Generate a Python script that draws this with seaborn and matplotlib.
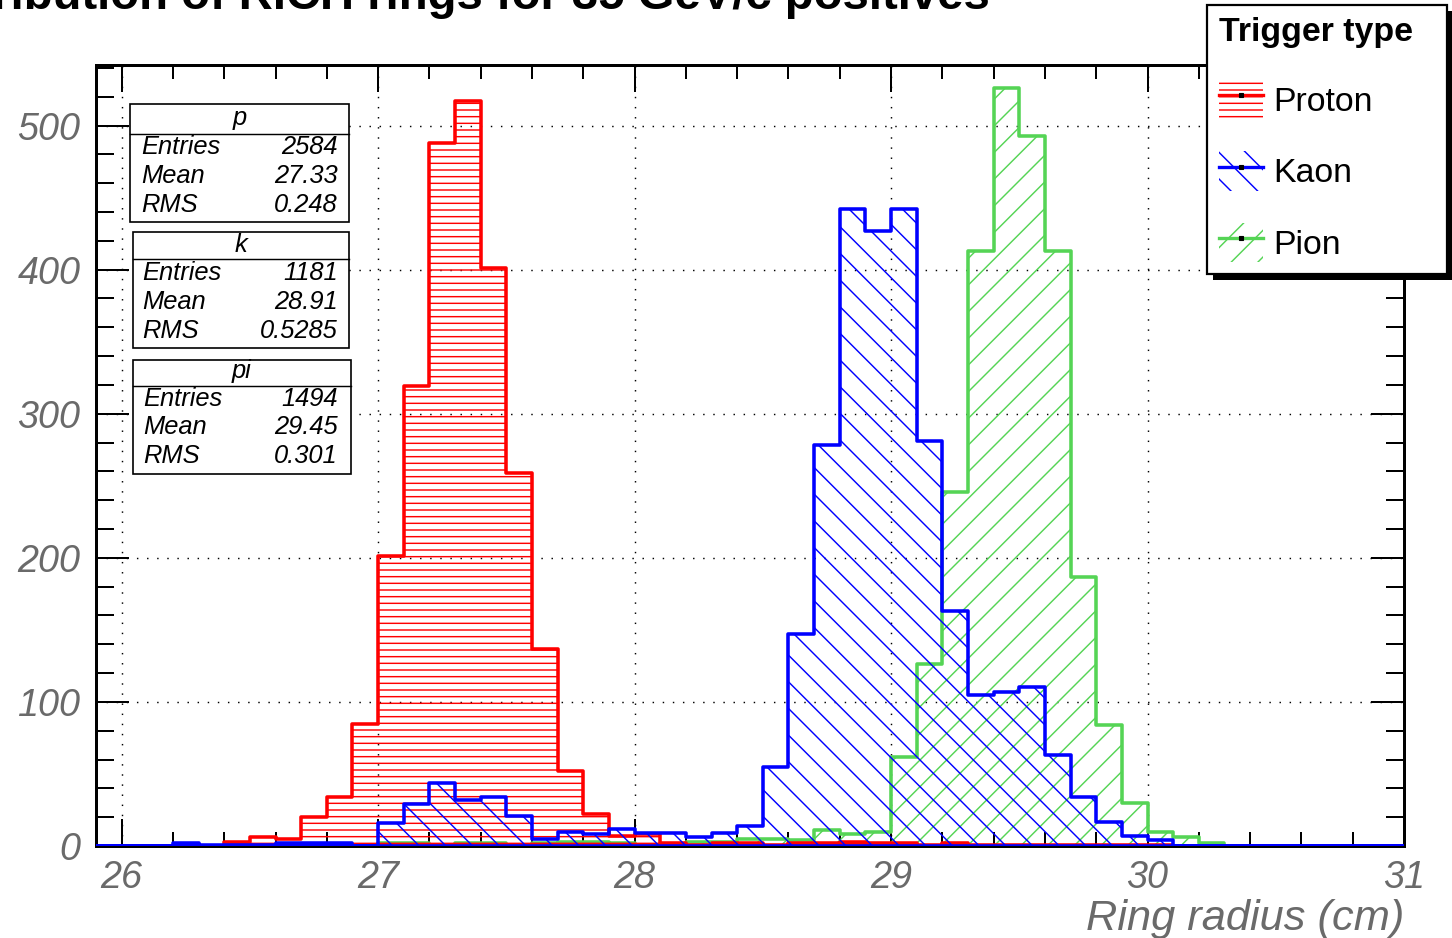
import numpy as np
import pandas as pd
import matplotlib
matplotlib.use("Agg")
import matplotlib.pyplot as plt
import seaborn as sns
from matplotlib.patches import Rectangle, Patch
from matplotlib.lines import Line2D
from matplotlib.legend_handler import HandlerTuple
from matplotlib.ticker import MultipleLocator

# ---------------------------------------------------------------- data
# 0.1 cm bins covering 25.9 .. 31.0 cm
bin_edges = [round(v, 2) for v in np.linspace(25.9, 31.0, 52)]

proton_counts = [0, 0, 0, 0, 0, 3, 6, 5, 20, 34,
                 85, 201, 319, 488, 517, 401, 259, 137, 52, 22,
                 7, 8, 2, 1, 2, 2, 1, 2, 2, 3,
                 2, 2, 1, 2, 1, 1, 1, 1, 1, 1,
                 1, 1, 0, 0, 0, 0, 0, 0, 0, 0, 0]
kaon_counts = [0, 0, 0, 2, 1, 1, 1, 2, 2, 2,
               0, 16, 29, 44, 32, 34, 21, 5, 10, 8,
               12, 9, 9, 6, 9, 14, 55, 147, 278, 442,
               427, 442, 281, 163, 105, 107, 110, 63, 34, 17,
               7, 4, 0, 0, 0, 0, 0, 0, 0, 0, 0]
pion_counts = [0, 0, 0, 0, 0, 0, 0, 1, 1, 0,
               0, 2, 2, 1, 2, 2, 1, 2, 3, 3,
               2, 0, 1, 3, 3, 5, 5, 4, 11, 8,
               10, 62, 126, 246, 413, 526, 493, 413, 187, 84,
               30, 10, 6, 2, 0, 0, 0, 0, 0, 0, 0]

species = ["Proton", "Kaon", "Pion"]
colors = {"Proton": "#ff0000", "Kaon": "#0000ff", "Pion": "#55d455"}
hatches = {"Proton": "--", "Kaon": "\\", "Pion": "/"}

stat_names = ["p", "k", "pi"]
stat_entries = ["2584", "1181", "1494"]
stat_means = ["27.33", "28.91", "29.45"]
stat_rms = ["0.248", "0.5285", "0.301"]

title_text = "Distribution of RICH rings for 35 GeV/c positives"
x_label = "Ring radius (cm)"
legend_title = "Trigger type"

centers = [(a + b) / 2 for a, b in zip(bin_edges[:-1], bin_edges[1:])]
df = pd.concat([
    pd.DataFrame({"radius": centers, "count": proton_counts, "species": "Proton"}),
    pd.DataFrame({"radius": centers, "count": kaon_counts, "species": "Kaon"}),
    pd.DataFrame({"radius": centers, "count": pion_counts, "species": "Pion"}),
], ignore_index=True)

# ---------------------------------------------------------------- style
W, H, DPI = 1452, 938, 80
plt.rcParams["font.family"] = ["Liberation Sans", "DejaVu Sans"]
plt.rcParams["hatch.linewidth"] = 1.3
label_gray = "#6a6a6a"

fig = plt.figure(figsize=(W / DPI, H / DPI), dpi=DPI, facecolor="white")
ax = fig.add_axes([96 / W, 1 - 846 / H, (1404 - 96) / W, (846 - 65) / H])


def fpos(x, y):
    """pixel position (from top-left) -> figure fraction"""
    return x / W, 1 - y / H


# histograms: pion underneath, kaon on top
for name, z in [("Pion", 2), ("Proton", 3), ("Kaon", 4)]:
    sns.histplot(data=df[df["species"] == name], x="radius", weights="count",
                 bins=bin_edges, element="step", fill=True, color=colors[name],
                 facecolor="none", edgecolor=colors[name], linewidth=3.2,
                 hatch=hatches[name], ax=ax, zorder=z)

ax.set_xlim(25.9, 31.0)
ax.set_ylim(0, 542)
ax.set_ylabel("")
ax.set_xlabel(x_label, loc="right", fontsize=39, style="italic",
              color=label_gray, labelpad=2)

ax.xaxis.set_major_locator(MultipleLocator(1))
ax.xaxis.set_minor_locator(MultipleLocator(0.2))
ax.yaxis.set_major_locator(MultipleLocator(100))
ax.yaxis.set_minor_locator(MultipleLocator(20))
ax.tick_params(which="both", direction="in", top=True, right=True,
               width=1.8, colors="black", labelcolor=label_gray, labelsize=34)
ax.tick_params(axis="x", which="major", length=24, pad=13)
ax.tick_params(axis="x", which="minor", length=12.5)
ax.tick_params(axis="y", which="major", length=30, pad=14)
ax.tick_params(axis="y", which="minor", length=16)
for lab in ax.get_xticklabels() + ax.get_yticklabels():
    lab.set_fontstyle("italic")
ax.grid(True, which="major", color="black", linestyle=(0, (1, 6)),
        linewidth=1.3, zorder=1)
ax.set_axisbelow(True)
for sp in ax.spines.values():
    sp.set_linewidth(2.7)
    sp.set_color("black")

# title (wider than the canvas, clipped at the edges)
fig.text(*fpos(990, 9), title_text, ha="right", va="baseline",
         fontsize=42.5, fontweight="bold")

# ---------------------------------------------------------------- stats boxes
box_geom = [  # (x0, y0, x1, y1, header line y, name y, row ys, label x)
    (130, 104, 349, 222, 134, 118, [147, 176, 205], 141),
    (133, 232, 349, 348, 259, 245, [273, 302, 331], 142),
    (133, 360, 351, 474, 386, 371, [399, 427, 456], 143),
]
for i, (x0, y0, x1, y1, hy, ny, rows, lx) in enumerate(box_geom):
    fx0, fy1 = fpos(x0, y1)
    fx1, fy0 = fpos(x1, y0)
    fig.add_artist(Rectangle((fx0, fy1), fx1 - fx0, fy0 - fy1,
                             transform=fig.transFigure, facecolor="white",
                             edgecolor="black", linewidth=1.5, zorder=6))
    fig.add_artist(Line2D([fx0, fx1], [1 - hy / H, 1 - hy / H],
                          transform=fig.transFigure, color="black",
                          linewidth=1.3, zorder=7))
    fig.text((fx0 + fx1) / 2, 1 - ny / H, stat_names[i], ha="center",
             va="center", fontsize=23, style="italic", zorder=8)
    values = [stat_entries[i], stat_means[i], stat_rms[i]]
    for lbl, val, ry in zip(["Entries", "Mean", "RMS"], values, rows):
        fig.text(lx / W, 1 - ry / H, lbl, ha="left", va="center",
                 fontsize=23, style="italic", zorder=8)
        fig.text(338 / W, 1 - ry / H, val, ha="right", va="center",
                 fontsize=23, style="italic", zorder=8)

# ---------------------------------------------------------------- legend
handles = []
for name in species:
    patch = Patch(facecolor="white", edgecolor=colors[name],
                  hatch=hatches[name], linewidth=0)
    line = Line2D([], [], color=colors[name], linewidth=3, marker="s",
                  markersize=3.5, markerfacecolor="black",
                  markeredgecolor="black")
    handles.append((patch, line))

lx0, ly1 = fpos(1207, 290)
lx1, ly0 = fpos(1447, 5)
leg = fig.legend(handles, species, loc="upper left",
                 bbox_to_anchor=(lx0, ly1, lx1 - lx0, ly0 - ly1),
                 bbox_transform=fig.transFigure, mode="expand",
                 borderaxespad=0, fontsize=30.5, title=legend_title,
                 title_fontproperties={"weight": "bold", "size": 30.5},
                 alignment="left", frameon=True, fancybox=False,
                 edgecolor="black", framealpha=1, handlelength=1.3,
                 handleheight=1.4, handletextpad=0.3, labelspacing=0.95,
                 borderpad=0.35,
                 handler_map={tuple: HandlerTuple(ndivide=1, pad=0)})
leg.get_frame().set_linewidth(2)
leg.set_zorder(10)

# black drop shadow behind the legend frame
fig.canvas.draw()
bb = leg.get_window_extent().transformed(fig.transFigure.inverted())
off_x, off_y = 6 / W, 6 / H
fig.add_artist(Rectangle((bb.x0 + off_x, bb.y0 - off_y), bb.width, bb.height,
                         transform=fig.transFigure, facecolor="black",
                         edgecolor="none", zorder=9))

fig.savefig("out.png", dpi=DPI, facecolor="white")
